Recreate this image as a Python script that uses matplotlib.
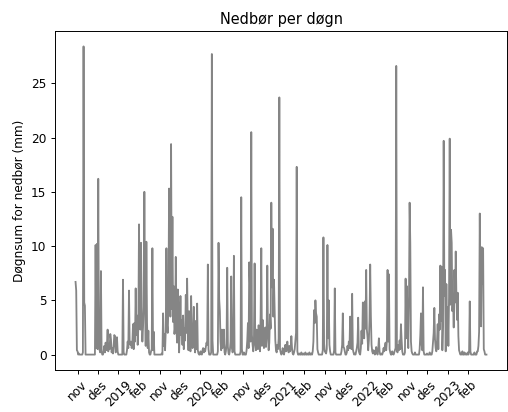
import numpy as np
import pandas as pd
import matplotlib
matplotlib.use('Agg')
import matplotlib.pyplot as plt

# Døgnnedbør (mm) per vintersesong, 29. okt - 28./29. feb
season_starts = ['2018-10-29', '2019-10-29', '2020-10-29', '2021-10-29', '2022-10-29']
season_ends = ['2019-02-28', '2020-02-29', '2021-02-28', '2022-02-28', '2023-02-28']

nedbor_2018 = [
    6.7, 5.9, 0.4, 0.3, 0.0, 0.1, 0.0, 0.0, 0.0, 0.0,
    0.0, 0.2, 28.4, 4.8, 4.5, 0.0, 0.0, 0.0, 0.0, 0.0,
    0.0, 0.0, 0.0, 0.0, 0.0, 0.0, 0.0, 0.0, 0.0, 0.0,
    10.1, 0.6, 10.2, 0.5, 16.2, 1.2, 0.4, 0.2, 7.7, 0.3,
    0.0, 0.0, 0.3, 0.8, 0.2, 1.1, 0.4, 0.9, 2.3, 0.3,
    1.0, 0.5, 1.9, 1.4, 0.2, 0.6, 0.1, 0.8, 1.8, 1.7,
    0.2, 0.4, 1.6, 0.3, 0.0, 0.0, 0.0, 0.0, 0.0, 0.0,
    0.0, 6.9, 0.2, 0.0, 0.0, 0.0, 0.0, 0.4, 1.2, 0.6,
    5.9, 1.0, 0.9, 1.2, 0.6, 1.0, 2.8, 0.5, 2.9, 1.2,
    6.1, 1.8, 3.6, 0.9, 2.6, 12.0, 4.1, 2.3, 10.3, 3.4,
    1.2, 2.5, 4.4, 15.0, 5.6, 0.8, 10.4, 2.9, 0.6, 2.2,
    0.2, 0.0, 0.0, 0.3, 0.5, 9.8, 0.4, 2.1, 0.0, 0.0,
    0.0, 0.0, 0.0,
]
nedbor_2019 = [
    0.0, 0.0, 0.0, 0.0, 0.0, 0.0, 0.1, 0.0, 3.8, 0.8,
    1.9, 0.4, 2.2, 9.8, 2.7, 2.0, 4.5, 15.3, 6.8, 3.5,
    19.4, 4.2, 12.7, 3.0, 6.3, 1.9, 2.5, 9.0, 2.4, 1.1,
    6.0, 3.9, 0.2, 2.1, 5.4, 1.8, 3.2, 0.9, 3.6, 0.5,
    2.4, 1.3, 5.5, 2.0, 7.0, 2.7, 0.4, 4.0, 1.2, 0.3,
    5.4, 2.1, 0.6, 1.5, 4.4, 0.8, 0.2, 3.1, 0.5, 4.7,
    0.4, 0.1, 0.0, 0.0, 0.3, 0.1, 0.0, 0.4, 0.6, 0.2,
    0.5, 0.3, 0.7, 1.1, 0.9, 8.3, 0.5, 0.0, 0.0, 0.0,
    0.2, 27.7, 1.3, 0.0, 0.0, 0.0, 0.0, 0.0, 0.0, 0.0,
    0.3, 10.3, 5.1, 4.0, 1.2, 0.4, 2.3, 0.6, 0.8, 2.3,
    0.2, 0.0, 0.3, 1.0, 8.0, 0.7, 0.1, 0.0, 0.4, 1.2,
    7.2, 0.6, 0.2, 0.5, 9.1, 0.3, 0.0, 0.0, 0.0, 0.0,
    0.0, 0.0, 0.0, 0.0,
]
nedbor_2020 = [
    0.3, 14.5, 0.5, 0.0, 0.0, 0.2, 0.0, 0.0, 0.0, 0.4,
    1.3, 2.9, 0.6, 8.5, 6.5, 1.2, 20.5, 1.8, 0.9, 0.3,
    1.5, 8.4, 1.0, 0.4, 2.3, 1.1, 0.5, 2.7, 1.6, 0.3,
    3.6, 9.8, 0.8, 3.2, 2.0, 0.6, 1.4, 2.5, 0.7, 1.9,
    8.2, 2.0, 0.4, 1.1, 3.7, 2.4, 14.0, 6.2, 11.6, 3.5,
    6.9, 4.1, 1.3, 0.4, 0.2, 0.9, 0.5, 1.5, 23.7, 0.5,
    0.2, 0.0, 0.1, 0.6, 0.2, 0.0, 0.4, 0.9, 0.3, 0.6,
    1.2, 0.4, 0.2, 0.8, 0.3, 0.5, 1.7, 0.6, 0.1, 0.0,
    0.2, 0.5, 1.2, 2.0, 17.3, 0.3, 0.0, 0.0, 0.1, 0.0,
    0.0, 0.2, 0.0, 0.0, 0.1, 0.0, 0.0, 0.2, 0.0, 0.0,
    0.1, 0.0, 0.0, 0.2, 0.0, 0.0, 0.1, 0.0, 0.3, 1.2,
    4.1, 2.9, 5.0, 3.8, 3.5, 0.5, 0.2, 0.0, 0.0, 0.0,
    0.0, 0.0, 0.0,
]
nedbor_2021 = [
    0.4, 10.8, 1.0, 0.3, 0.2, 0.1, 0.5, 10.1, 1.5, 5.0,
    0.9, 0.3, 0.0, 0.0, 0.0, 0.0, 0.0, 0.4, 6.1, 0.2,
    0.0, 0.0, 0.0, 0.0, 0.0, 0.0, 0.0, 0.0, 0.3, 0.9,
    3.8, 0.7, 0.6, 0.3, 0.0, 0.0, 0.2, 0.8, 0.4, 1.2,
    0.6, 3.5, 1.4, 0.5, 5.6, 0.5, 0.2, 0.0, 0.1, 0.0,
    0.3, 0.6, 1.1, 3.4, 0.3, 0.1, 0.0, 0.6, 2.2, 1.0,
    4.8, 3.0, 1.5, 4.9, 2.4, 7.8, 2.3, 1.6, 0.4, 1.3,
    3.2, 8.3, 3.6, 0.9, 0.3, 0.1, 0.4, 0.2, 0.0, 0.3,
    0.7, 0.2, 0.0, 0.5, 1.5, 0.3, 0.0, 0.0, 0.1, 0.0,
    0.2, 0.6, 0.3, 0.8, 1.1, 0.4, 1.3, 7.8, 1.2, 7.4,
    0.5, 0.2, 0.0, 0.0, 0.3, 0.1, 0.0, 0.2, 0.4, 0.6,
    26.6, 0.3, 0.2, 0.9, 0.4, 1.3, 0.5, 2.8, 1.4, 0.3,
    0.0, 0.0, 0.0,
]
nedbor_2022 = [
    0.2, 7.0, 1.5, 6.3, 2.2, 0.6, 4.8, 14.0, 10.3, 1.2,
    0.3, 0.1, 0.0, 0.0, 0.0, 0.2, 0.0, 0.0, 0.0, 0.0,
    0.0, 0.0, 0.5, 1.8, 3.8, 0.9, 0.4, 6.2, 0.3, 0.0,
    0.0, 0.0, 0.0, 0.1, 0.0, 0.0, 0.0, 0.2, 0.0, 0.0,
    0.0, 0.3, 1.1, 2.0, 4.3, 1.4, 0.6, 0.3, 1.2, 2.8,
    0.5, 3.7, 2.3, 8.2, 3.1, 8.1, 0.4, 2.6, 19.7, 5.4,
    7.8, 0.3, 6.5, 2.1, 4.4, 0.8, 5.3, 19.9, 4.6, 11.5,
    10.3, 4.0, 5.6, 2.5, 7.8, 4.8, 9.5, 5.5, 3.2, 5.7,
    1.7, 0.4, 0.2, 0.0, 0.1, 0.0, 0.3, 0.0, 0.0, 0.2,
    0.0, 0.1, 0.0, 0.0, 0.2, 0.0, 0.3, 4.9, 0.3, 0.0,
    0.0, 0.0, 0.0, 0.0, 0.2, 0.0, 0.0, 0.0, 0.3, 0.3,
    0.8, 2.1, 13.0, 4.2, 2.6, 9.9, 6.5, 9.8, 0.5, 0.3,
    0.0, 0.0, 0.0,
]

tick_labels = ['nov', 'des', '2019', 'feb',
               'nov', 'des', '2020', 'feb',
               'nov', 'des', '2021', 'feb',
               'nov', 'des', '2022', 'feb',
               'nov', 'des', '2023', 'feb']

seasons = [nedbor_2018, nedbor_2019, nedbor_2020, nedbor_2021, nedbor_2022]
dates = pd.DatetimeIndex([])
for start, end in zip(season_starts, season_ends):
    dates = dates.append(pd.date_range(start, end, freq='D'))
values = np.concatenate([np.array(s) for s in seasons])
assert len(dates) == len(values)

# dagene plottes etter hverandre (kun vintermånedene)
x = np.arange(len(values))
tick_pos = x[dates.day == 1]

dpi = 87
fig = plt.figure(figsize=(508 / dpi, 412 / dpi), dpi=dpi)
ax = fig.add_axes([55 / 508, 1 - 370 / 412, 452 / 508, 339 / 412])
ax.plot(x, values, color='#858585', linewidth=1.5)

ax.set_title('Nedbør per døgn')
ax.set_ylabel('Døgnsum for nedbør (mm)')
ax.set_xticks(tick_pos)
ax.set_xticklabels(tick_labels, rotation=45)
ax.set_yticks([0, 5, 10, 15, 20, 25])

fig.savefig('out.png', dpi=dpi)
